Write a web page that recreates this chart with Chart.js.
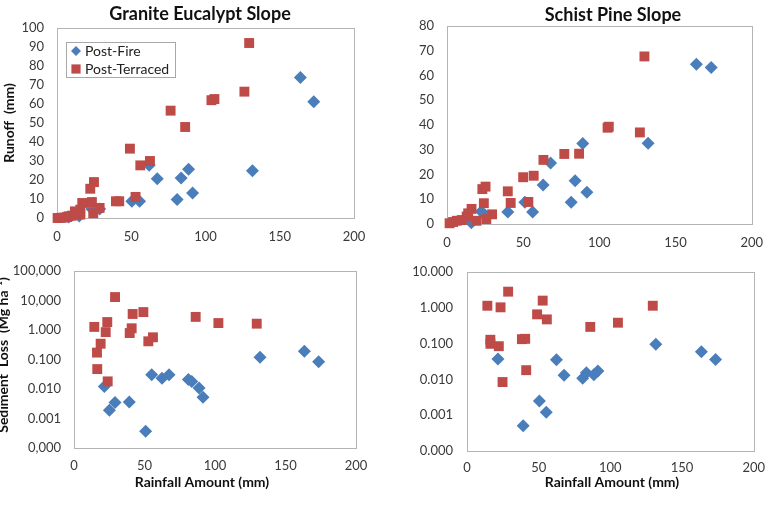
<!DOCTYPE html>
<html>
<head>
<meta charset="utf-8">
<script src="https://cdn.jsdelivr.net/npm/chart.js@4.4.0/dist/chart.umd.min.js"></script>
<style>
body { margin: 0; background: #fff; width: 774px; height: 508px; overflow: hidden; position: relative; }
.panel { position: absolute; }
.panel canvas { display: block; }
</style>
</head>
<body>
<div class="panel" style="left:0;top:0"><canvas id="granRunoff" width="385" height="250"></canvas></div>
<div class="panel" style="left:385px;top:0"><canvas id="schRunoff" width="389" height="250"></canvas></div>
<div class="panel" style="left:0;top:250px"><canvas id="granSed" width="385" height="258"></canvas></div>
<div class="panel" style="left:385px;top:250px"><canvas id="schSed" width="389" height="258"></canvas></div>
<script>
// Granite Eucalypt Slope - runoff (mm) vs rainfall (mm)
var granFireRainA = [163.9, 172.9, 131.6, 88.6, 83.6, 91.3, 80.9, 67.5, 62.1, 50.4, 55.6, 23.5, 28.7, 15, 8];
var granFireRunoff = [74.0, 61.2, 24.9, 25.6, 21.1, 13.2, 9.8, 20.7, 27.7, 8.8, 8.8, 4.7, 4.7, 1, 0.5];
var granTerrRainA = [129.4, 126.2, 104.0, 106.0, 76.5, 86.3, 49.1, 62.6, 56.1, 52.9, 39.7, 41.9, 24.9, 22.4, 23.5, 24.4, 28.7, 17.0, 15.7, 15.7, 12.1, 7.8, 4.5, 0.4, 10.0, 6.7, 2.5];
var granTerrRunoff = [92.1, 66.5, 62.0, 62.6, 56.5, 47.9, 36.5, 30.0, 27.7, 11.1, 8.8, 8.8, 18.9, 15.4, 8.4, 2.5, 5.3, 7.9, 4.4, 1.8, 3.5, 0.9, 0.2, 0.0, 1.2, 0.5, 0.1];

// Schist Pine Slope - runoff
var schFireRainA = [163.7, 173.4, 132.0, 89.1, 68.0, 84.1, 91.8, 81.5, 63.1, 51.1, 56.2, 39.9, 22.5, 25, 16];
var schFireRunoff = [64.5, 63.2, 32.6, 32.5, 24.6, 17.5, 12.8, 8.8, 15.8, 8.8, 4.8, 4.8, 5.1, 3.5, 0.5];
var schTerrRainA = [129.6, 126.6, 105.4, 106.2, 77.0, 86.7, 63.3, 50.0, 56.9, 39.9, 41.8, 53.4, 23.2, 25.3, 24.2, 29.6, 25.8, 16.1, 13.9, 19.3, 9.7, 6.4, 1.7, 12.9, 4];
var schTerrRunoff = [67.7, 37.0, 38.9, 39.3, 28.3, 28.4, 25.9, 18.9, 19.5, 13.2, 8.5, 8.9, 14.1, 15.1, 8.4, 3.9, 2.0, 6.1, 4.3, 1.3, 1.6, 1.3, 0.3, 3.0, 0.8];

// Granite - sediment loss (Mg ha-1)
var granFireRainB = [163.4, 173.5, 131.9, 55.1, 62.4, 67.4, 81.1, 83.5, 88.7, 91.5, 50.8, 39.2, 29.1, 25.1, 21.5];
var granFireSed = [0.188, 0.084, 0.119, 0.030, 0.023, 0.030, 0.021, 0.018, 0.0108, 0.0052, 0.00037, 0.0036, 0.0035, 0.0019, 0.012];
var granTerrRainB = [29.1, 14.4, 23.6, 22.5, 18.9, 16.3, 16.5, 23.9, 41.6, 49.2, 39.5, 40.9, 52.7, 56.0, 86.3, 102.4, 129.6];
var granTerrSed = [12.9, 1.26, 1.84, 0.84, 0.34, 0.17, 0.047, 0.018, 3.45, 4.0, 0.78, 1.13, 0.41, 0.56, 2.75, 1.70, 1.62];

// Schist - sediment loss
var schFireRainB = [131.7, 163.5, 173.4, 21.6, 62.4, 67.7, 80.7, 83.3, 88.5, 91.3, 50.5, 55.3, 39.2];
var schFireSed = [0.095, 0.059, 0.036, 0.037, 0.035, 0.0129, 0.0107, 0.0152, 0.0134, 0.0170, 0.0025, 0.0012, 0.00051];
var schTerrRainB = [28.7, 14.2, 23.4, 52.8, 48.9, 55.7, 86.0, 105.3, 129.6, 16.3, 16.3, 22.2, 38.3, 40.6, 41.3, 24.8];
var schTerrSed = [2.79, 1.13, 1.02, 1.57, 0.65, 0.47, 0.29, 0.38, 1.13, 0.127, 0.098, 0.084, 0.132, 0.135, 0.018, 0.0084];

// log axis ticks (bottom to top)
var granSedTicks = [0.0001, 0.001, 0.01, 0.1, 1, 10, 100];
var granSedLabels = ['0,000', '0.001', '0.010', '0.100', '1.000', '10,000', '100,000'];
var schSedTicks = [0.0001, 0.001, 0.01, 0.1, 1, 10];
var schSedLabels = ['0.000', '0.001', '0.010', '0.100', '1.000', '10.000'];

var BLUE = '#4a7ebb';
var RED = '#be4b48';
var FONT = 'Lato, "Open Sans", sans-serif';

Chart.defaults.font.family = FONT;
Chart.defaults.font.size = 13;
Chart.defaults.color = '#3a3a3a';

function toPoints(xs, ys) {
    return xs.map(function (x, i) { return { x: x, y: ys[i] }; });
}

function makeDatasets(fx, fy, tx, ty) {
    return [
        { label: 'Post-Fire', data: toPoints(fx, fy), pointStyle: 'rectRot', pointRadius: 6.5,
          backgroundColor: BLUE, borderColor: BLUE, borderWidth: 0, order: 2, clip: false },
        { label: 'Post-Terraced', data: toPoints(tx, ty), pointStyle: 'rect', pointRadius: 7,
          backgroundColor: RED, borderColor: RED, borderWidth: 0, order: 1, clip: false }
    ];
}

// plot frame, titles and the in-plot legend
var frameAndText = {
    id: 'frameAndText',
    beforeDatasetsDraw: function (chart) {
        var a = chart.chartArea, ctx = chart.ctx;
        ctx.save();
        ctx.strokeStyle = '#b4b4b4';
        ctx.lineWidth = 1;
        ctx.strokeRect(Math.round(a.left) + 0.5, Math.round(a.top) + 0.5,
            Math.round(a.right - a.left), Math.round(a.bottom - a.top));
        ctx.restore();
    },
    afterDraw: function (chart, args, opts) {
        var ctx = chart.ctx;
        (opts.texts || []).forEach(function (t) {
            ctx.save();
            ctx.font = t.font;
            ctx.fillStyle = '#111';
            ctx.textAlign = 'center';
            ctx.textBaseline = 'middle';
            ctx.translate(t.x, t.y);
            if (t.rot) ctx.rotate(t.rot);
            ctx.fillText(t.text, 0, 0);
            ctx.restore();
        });
        var L = opts.legend;
        if (L) {
            ctx.save();
            ctx.fillStyle = '#fff';
            ctx.fillRect(L.x, L.y, L.w, L.h);
            ctx.strokeStyle = '#a8a8a8';
            ctx.lineWidth = 1;
            ctx.strokeRect(L.x + 0.5, L.y + 0.5, L.w, L.h);
            chart.data.datasets.forEach(function (ds, i) {
                var cy = L.y + L.first + i * L.gap;
                ctx.fillStyle = ds.backgroundColor;
                ctx.strokeStyle = ds.borderColor;
                Chart.helpers.drawPoint(ctx, { pointStyle: ds.pointStyle, radius: L.radius[i], borderWidth: 0, rotation: 0 }, L.x + 10, cy);
                ctx.fillStyle = '#222';
                ctx.font = '14px ' + FONT;
                ctx.textAlign = 'left';
                ctx.textBaseline = 'middle';
                ctx.fillText(ds.label, L.x + 19, cy);
            });
            ctx.restore();
        }
    }
};

function makeChart(id, cfg) {
    var yScale;
    if (cfg.logTicks) {
        yScale = {
            type: 'logarithmic', min: cfg.logTicks[0], max: cfg.logTicks[cfg.logTicks.length - 1],
            afterBuildTicks: function (s) { s.ticks = cfg.logTicks.map(function (v) { return { value: v }; }); },
            ticks: { padding: cfg.yPad, autoSkip: false, callback: function (v, i) { return cfg.logLabels[i]; } },
            grid: { display: false, drawTicks: false }, border: { display: false },
            afterFit: function (s) { s.width = cfg.yW; }
        };
    } else {
        yScale = {
            type: 'linear', min: 0, max: cfg.yMax,
            ticks: { stepSize: 10, padding: cfg.yPad, autoSkip: false },
            grid: { display: false, drawTicks: false }, border: { display: false },
            afterFit: function (s) { s.width = cfg.yW; }
        };
    }
    return new Chart(document.getElementById(id), {
        type: 'scatter',
        data: { datasets: cfg.datasets },
        options: {
            responsive: false,
            animation: false,
            devicePixelRatio: 1,
            layout: { padding: { top: cfg.padTop, right: cfg.padRight, left: 0, bottom: 0 } },
            plugins: {
                legend: { display: false },
                tooltip: { enabled: false },
                frameAndText: { texts: cfg.texts, legend: cfg.legend }
            },
            scales: {
                x: {
                    type: 'linear', min: 0, max: 200,
                    ticks: { stepSize: 50, padding: cfg.xPad, maxRotation: 0 },
                    grid: { display: false, drawTicks: false }, border: { display: false },
                    afterFit: function (s) { s.height = cfg.xH; }
                },
                y: yScale
            }
        },
        plugins: [frameAndText]
    });
}

var TITLE_FONT = 'bold 18px ' + FONT;
var AXIS_FONT = 'bold 14px ' + FONT;

makeChart('granRunoff', {
    datasets: makeDatasets(granFireRainA, granFireRunoff, granTerrRainA, granTerrRunoff),
    yMax: 100, yW: 57, xH: 32, padTop: 28, padRight: 31, xPad: 11, yPad: 13,
    texts: [
        { text: 'Granite Eucalypt Slope', x: 200, y: 14, font: TITLE_FONT },
        { text: 'Runoff  (mm)', x: 9, y: 123, rot: -Math.PI / 2, font: AXIS_FONT }
    ],
    legend: { x: 66, y: 42, w: 109, h: 35, first: 9, gap: 18, radius: [5, 6.5] }
});

makeChart('schRunoff', {
    datasets: makeDatasets(schFireRainA, schFireRunoff, schTerrRainA, schTerrRunoff),
    yMax: 80, yW: 62, xH: 26, padTop: 26, padRight: 17, xPad: 11, yPad: 13,
    texts: [
        { text: 'Schist Pine Slope', x: 228, y: 15, font: TITLE_FONT }
    ]
});

makeChart('granSed', {
    datasets: makeDatasets(granFireRainB, granFireSed, granTerrRainB, granTerrSed),
    logTicks: granSedTicks, logLabels: granSedLabels,
    yW: 74, xH: 60, padTop: 16, padRight: 29, xPad: 10, yPad: 13,
    texts: [
        { text: 'Rainfall Amount (mm)', x: 202, y: 232, font: AXIS_FONT },
        { text: 'Sediment  Loss  (Mg ha\u207B\u00B9)', x: 3, y: 105, rot: -Math.PI / 2, font: AXIS_FONT }
    ]
});

makeChart('schSed', {
    datasets: makeDatasets(schFireRainB, schFireSed, schTerrRainB, schTerrSed),
    logTicks: schSedTicks, logLabels: schSedLabels,
    yW: 82, xH: 57, padTop: 15, padRight: 17, xPad: 9, yPad: 14,
    texts: [
        { text: 'Rainfall Amount (mm)', x: 227, y: 232, font: AXIS_FONT }
    ]
});
</script>
</body>
</html>
